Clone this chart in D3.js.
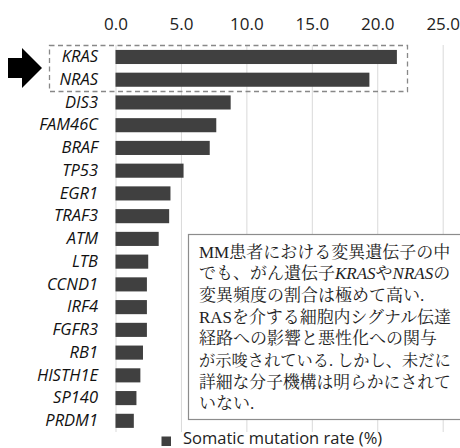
<!DOCTYPE html>
<html><head><meta charset="utf-8">
<script src="https://cdn.jsdelivr.net/npm/d3@7"></script>
<style>
html,body{margin:0;padding:0;background:#fff;}
svg{display:block;}
</style>
</head><body>
<svg id="chart" width="460" height="448"></svg>
<script>
const genes = ["KRAS","NRAS","DIS3","FAM46C","BRAF","TP53","EGR1","TRAF3","ATM","LTB","CCND1","IRF4","FGFR3","RB1","HISTH1E","SP140","PRDM1"];
const rates = [21.5,19.4,8.8,7.7,7.2,5.2,4.2,4.1,3.3,2.5,2.4,2.4,2.4,2.1,1.9,1.6,1.4];
const xTicks = [0,5,10,15,20,25];
const legendLabel = "Somatic mutation rate (%)";
const noteLines = [
  [["MM患者における変異遺伝子の中",false]],
  [["でも、がん遺伝子",false],["KRAS",true],["や",false],["NRAS",true],["の",false]],
  [["変異頻度の割合は極めて高い.",false]],
  [["RASを介する細胞内シグナル伝達",false]],
  [["経路への影響と悪性化への関与",false]],
  [["が示唆されている. しかし、未だに",false]],
  [["詳細な分子機構は明らかにされて",false]],
  [["いない.",false]]
];

const svg = d3.select("#chart");
const x = d3.scaleLinear().domain([0,25]).range([115.5,442.7]);
const y = d3.scaleBand().domain(genes).range([45.6,432.2]).paddingInner(0.38).paddingOuter(0.19);

// gridlines
svg.append("g").selectAll("line").data(xTicks).join("line")
  .attr("x1",d=>x(d)+0.5).attr("x2",d=>x(d)+0.5)
  .attr("y1",45).attr("y2",432)
  .attr("stroke","#d9d9d9").attr("stroke-width",1);

// bars
svg.append("g").selectAll("rect").data(genes).join("rect")
  .attr("x",x(0)).attr("y",d=>y(d))
  .attr("width",(d,i)=>x(rates[i])-x(0))
  .attr("height",y.bandwidth())
  .attr("fill","#404040");

// top axis
const ax = svg.append("g").attr("transform","translate(0,45)")
  .call(d3.axisTop(x).tickValues(xTicks).tickFormat(d3.format(".1f")).tickSize(0).tickPadding(15));
ax.select(".domain").remove();
ax.selectAll("text").attr("font-family","'Open Sans', sans-serif").attr("font-size",17).attr("fill","#222");

// left axis
const ay = svg.append("g").attr("transform",`translate(${x(0)},0)`)
  .call(d3.axisLeft(y).tickSize(0).tickPadding(17.5));
ay.select(".domain").remove();
ay.selectAll("text").attr("font-family","'Open Sans', sans-serif").attr("font-size",16.5)
  .attr("font-style","italic").attr("fill","#111");

// dashed highlight box
svg.append("rect").attr("x",49.5).attr("y",45.5).attr("width",358).attr("height",46)
  .attr("fill","none").attr("stroke","#888").attr("stroke-width",1.3).attr("stroke-dasharray","5,3.5");

// arrow
svg.append("path")
  .attr("d","M8,58 L22,58 L22,48 L42,68 L22,88 L22,78 L8,78 Z")
  .attr("fill","#000");

// note box
svg.append("rect").attr("x",188.5).attr("y",234.5).attr("width",290).attr("height",185)
  .attr("fill","#fff").attr("stroke","#8c8c8c").attr("stroke-width",1.2);
const baseFs = 17;
const noteG = svg.append("g").attr("font-family","'Liberation Serif','Noto Serif CJK JP','Noto Sans CJK JP',serif")
  .attr("fill","#222");
const maxW = 252;
const noteTexts = [];
noteLines.forEach((segs,i)=>{
  const t = noteG.append("text").attr("x",199).attr("y",257.5+i*21.7).attr("font-size",baseFs);
  segs.forEach(([s,it])=>{
    t.append("tspan").text(s).attr("font-style",it?"italic":"normal");
  });
  noteTexts.push(t);
});
function fitNote(){
  noteTexts.forEach(t=>{
    t.attr("font-size",baseFs);
    const w = t.node().getComputedTextLength();
    if (w > maxW) t.attr("font-size", (baseFs*maxW/w).toFixed(2));
  });
}
fitNote();
if (document.fonts && document.fonts.ready) document.fonts.ready.then(fitNote);

// legend
svg.append("rect").attr("x",161.5).attr("y",436.5).attr("width",9.5).attr("height",9.5).attr("fill","#404040");
svg.append("text").attr("x",183).attr("y",443.5).text(legendLabel)
  .attr("font-family","'Open Sans', sans-serif").attr("font-size",16.5).attr("fill","#222");
</script>
</body></html>
